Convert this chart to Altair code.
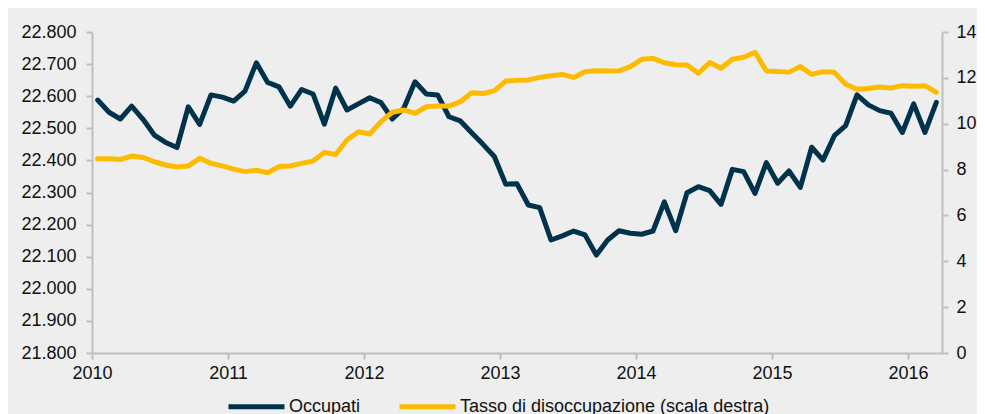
import altair as alt
import pandas as pd

# Monthly observations, Jan 2010 - Mar 2016
months = [f"{y}-{m:02d}" for y in range(2010, 2017) for m in range(1, 13)][:75]

occupati = [
    22588, 22550, 22529, 22569, 22528, 22479, 22456, 22440, 22567, 22512, 22604, 22597,
    22585, 22616, 22704, 22643, 22629, 22569, 22621, 22607, 22513, 22625, 22557, 22576,
    22595, 22580, 22529, 22562, 22645, 22607, 22604, 22536, 22523, 22486, 22450, 22412,
    22326, 22327, 22261, 22253, 22152, 22165, 22180, 22168, 22105, 22152, 22181, 22173,
    22170, 22180, 22271, 22181, 22299, 22318, 22306, 22263, 22372, 22365, 22297, 22393,
    22329, 22367, 22316, 22441, 22401, 22477, 22508, 22604, 22573, 22555, 22547, 22487,
    22576, 22487, 22581,
]

tasso = [
    8.47, 8.47, 8.44, 8.59, 8.53, 8.34, 8.20, 8.11, 8.16, 8.49, 8.27, 8.16,
    8.02, 7.91, 7.97, 7.86, 8.13, 8.16, 8.27, 8.37, 8.75, 8.66, 9.29, 9.65,
    9.55, 10.09, 10.50, 10.60, 10.45, 10.74, 10.77, 10.77, 10.96, 11.35, 11.32, 11.43,
    11.86, 11.89, 11.91, 12.02, 12.09, 12.15, 12.02, 12.27, 12.31, 12.30, 12.31, 12.49,
    12.81, 12.85, 12.66, 12.57, 12.56, 12.20, 12.67, 12.42, 12.81, 12.90, 13.11, 12.30,
    12.28, 12.25, 12.49, 12.15, 12.27, 12.24, 11.72, 11.50, 11.54, 11.60, 11.56, 11.66,
    11.63, 11.66, 11.37,
]

series_names = ["Occupati", "Tasso di disoccupazione (scala destra)"]
series_colors = ["#00324b", "#fdbb00"]

left_ticks = list(range(21800, 22801, 100))
right_ticks = list(range(0, 15, 2))
x_ticks = [2010 + 0.5 * k for k in range(13)]

def to_t(s):
    y, m = s.split("-")
    return int(y) + (int(m) - 0.5) / 12

rows = []
for s, o, u in zip(months, occupati, tasso):
    rows.append({"month": s, "t": to_t(s), "value": o, "series": series_names[0]})
    rows.append({"month": s, "t": to_t(s), "value": u, "series": series_names[1]})
df = pd.DataFrame(rows)

FONT = "Liberation Sans"
AXC = "#bfbfbf"

x_enc = alt.X(
    "t:Q",
    scale=alt.Scale(domain=[2010, 2016.25], nice=False, zero=False),
    axis=alt.Axis(
        title=None, values=x_ticks, format="d",
        labelExpr="datum.value % 1 == 0 ? datum.label : ''",
        labelFlush=False, labelOverlap=False, labelPadding=5,
    ),
)

color_enc = alt.Color(
    "series:N",
    scale=alt.Scale(domain=series_names, range=series_colors),
    legend=alt.Legend(
        title=None, orient="none", direction="horizontal",
        legendX=134, legendY=344,
        symbolType="stroke", symbolStrokeWidth=5, symbolSize=3136,
        labelFont=FONT, labelFontSize=18, labelColor="#111111", labelLimit=500,
        labelOffset=2, columnPadding=28, padding=0,
    ),
)

base = alt.Chart(df).encode(x=x_enc, color=color_enc)

occ = base.transform_filter(alt.datum.series == series_names[0]).mark_line(
    strokeWidth=5, strokeJoin="round", strokeCap="round"
).encode(
    y=alt.Y(
        "value:Q",
        scale=alt.Scale(domain=[21800, 22800], nice=False, zero=False),
        axis=alt.Axis(
            title=None, orient="left", values=left_ticks,
            labelExpr="replace(format(datum.value, ','), ',', '.')",
            labelPadding=10,
        ),
    )
)

une = base.transform_filter(alt.datum.series == series_names[1]).mark_line(
    strokeWidth=5, strokeJoin="round", strokeCap="round"
).encode(
    y=alt.Y(
        "value:Q",
        scale=alt.Scale(domain=[0, 14], nice=False, zero=True),
        axis=alt.Axis(
            title=None, orient="right", values=right_ticks, format="d",
            labelPadding=8,
        ),
    )
)

chart = (
    alt.layer(occ, une)
    .resolve_scale(y="independent")
    .properties(
        width=850, height=321,
        autosize=alt.AutoSizeParams(type="none"),
        padding={"left": 84, "top": 24, "right": 35, "bottom": 61},
        background="#eeeeee",
    )
    .configure_view(stroke=None)
    .configure_axis(
        grid=False, domainColor=AXC, domainWidth=2, tickColor=AXC, tickWidth=2,
        tickSize=6, labelFont=FONT, labelFontSize=18, labelColor="#111111",
    )
)

chart.save("out.html", embed_options={"renderer": "svg", "actions": False})
